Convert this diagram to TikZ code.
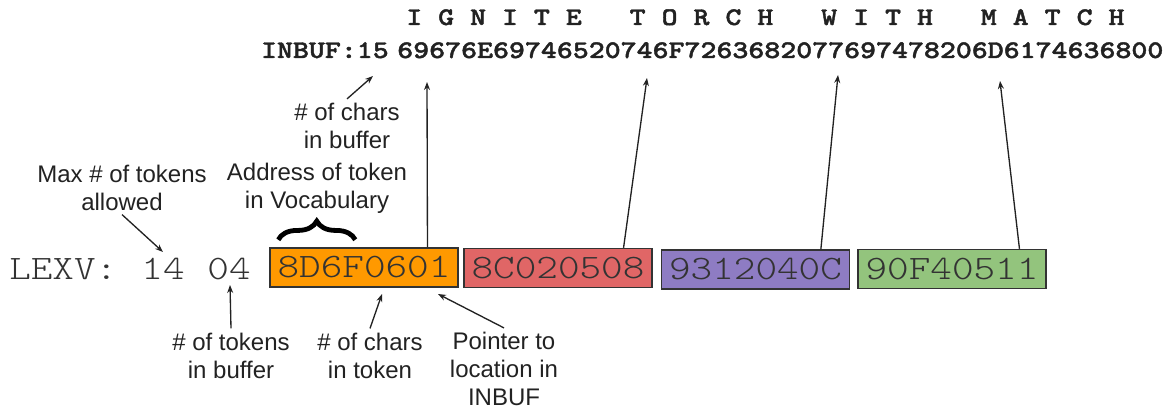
\documentclass[tikz,border=0pt]{standalone}
\usepackage{fontspec}
\setmainfont{Liberation Sans}
\newfontfamily\courlike[FakeStretch=1.2]{Latin Modern Mono Light}
\newfontfamily\courheavy[FakeStretch=1.2,FakeBold=1.6]{Latin Modern Mono Light}
\usetikzlibrary{arrows.meta,decorations.pathreplacing,calc}
\definecolor{ink}{HTML}{222222}
\definecolor{boxline}{HTML}{333333}
\definecolor{monotext}{HTML}{333333}
\definecolor{cOrange}{HTML}{FF9900}
\definecolor{cRed}{HTML}{E06666}
\definecolor{cPurple}{HTML}{8E7CC3}
\definecolor{cGreen}{HTML}{93C47D}
\begin{document}
\begin{tikzpicture}[x=0.75pt,y=-0.75pt,
  lbl/.style={font=\fontsize{18}{21}\selectfont, align=center, text=ink, inner sep=3pt},
  arr/.style={draw=ink, line width=1pt, -{Stealth[length=6pt,width=4.5pt]}},
  bigmono/.style={font=\courlike\fontsize{25.7}{26}\selectfont, text=monotext, inner sep=0pt},
  topmono/.style={font=\courheavy\bfseries\fontsize{19}{19}\selectfont, text=ink, inner sep=0pt},
  hexbox/.style={draw=boxline, line width=1.1pt, minimum width=141pt, minimum height=29.25pt,
    inner sep=0pt, font=\courlike\fontsize{25.7}{26}\selectfont, text=monotext},
  bracestyle/.style={draw=black, line width=3.6pt, decorate, decoration={brace, amplitude=14pt}}
]
\useasboundingbox (0,0) rectangle (1170,410);

% top lines
\node[topmono, anchor=base west] (letters) at (406,25) {I~G~N~I~T~E~~~T~O~R~C~H~~~W~I~T~H~~~M~A~T~C~H};
\node[topmono, anchor=base east] (inbuf) at (389,58) {INBUF:15};
\node[topmono, anchor=base west] (hex) at (397,58) {69676E69746520746F7263682077697478206D6174636800};

% LEXV line
\node[bigmono, anchor=base west] (lexv) at (9,279) {LEXV:};
\node[bigmono, anchor=base] (n14) at (163,279) {14};
\node[bigmono, anchor=base] (n04) at (229,279) {04};

% boxes
\node[hexbox, fill=cOrange] (box1) at (364,267.5) {8D6F0601};
\node[hexbox, fill=cRed] (box2) at (558,268) {8C020508};
\node[hexbox, fill=cPurple] (box3) at (755.5,269.5) {9312040C};
\node[hexbox, fill=cGreen] (box4) at (952,269) {90F40511};

% labels
\node[lbl] (charsbuf) at (347,126) {\# of chars\\in buffer};
\node[lbl] (addr) at (317,188.5) {Address of token\\in Vocabulary};
\node[lbl] (maxtok) at (122,187.5) {Max \# of tokens\\allowed};
\node[lbl] (toksbuf) at (231,355.5) {\# of tokens\\in buffer};
\node[lbl] (charstok) at (370,355.5) {\# of chars\\in token};
\node[lbl] (pointer) at (504,369) {Pointer to\\location in\\INBUF};

% arrow tips
\coordinate (t14) at (163,252);
\coordinate (t04) at (230,285);
\coordinate (ttok) at (382,294);
\coordinate (tptr) at (438,294);
\coordinate (t15) at (373,76);
\coordinate (h1) at (427,82);
\coordinate (h2) at (647,78);
\coordinate (h3) at (838,75);
\coordinate (h4) at (1000,81);

% brace
\draw[bracestyle] ($(box1.north west)+(9,-7.5)$) -- ($(box1.north west)+(86,-7.5)$);

% arrows
\draw[arr] (maxtok.south) -- (t14);
\draw[arr] (toksbuf.north) -- (t04);
\draw[arr] (charstok.north) -- (ttok);
\draw[arr] (pointer.north) -- (tptr);
\draw[arr] (charsbuf.north) -- (t15);
\draw[arr] ($(box1.north west)!0.835!(box1.north east)$) -- (h1);
\draw[arr] ($(box2.north west)!0.846!(box2.north east)$) -- (h2);
\draw[arr] ($(box3.north west)!0.845!(box3.north east)$) -- (h3);
\draw[arr] ($(box4.north west)!0.856!(box4.north east)$) -- (h4);
\end{tikzpicture}
\end{document}
